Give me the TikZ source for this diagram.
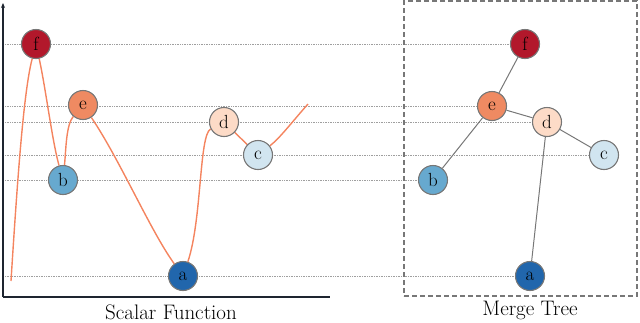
\documentclass[tikz,border=0pt]{standalone}
\usepackage{fontspec}
\usetikzlibrary{backgrounds,arrows.meta}
\definecolor{cf}{HTML}{B2182B}
\definecolor{ce}{HTML}{EF8A62}
\definecolor{cd}{HTML}{FDDBC7}
\definecolor{cc}{HTML}{D1E5F0}
\definecolor{cb}{HTML}{67A9CF}
\definecolor{ca}{HTML}{2166AC}
\definecolor{curvec}{RGB}{244,132,95}
\definecolor{bordc}{HTML}{777777}
\definecolor{axisc}{HTML}{1E2530}
\begin{document}
\begin{tikzpicture}[x=1pt,y=-1pt,
  crit/.style={circle,draw=bordc,line width=1.1pt,minimum size=29pt,inner sep=0pt,font=\fontsize{19}{21}\selectfont},
  level/.style={gray!75,line width=0.7pt,dash pattern=on 1pt off 0.7pt},
  fcurve/.style={curvec,line width=1.4pt},
  tedge/.style={bordc,line width=1pt},
  lbl/.style={font=\fontsize{21}{24}\selectfont}]
\useasboundingbox (0,0) rectangle (640,322);
% scalar function nodes
\node[crit,fill=cf] (lf) at (36,44) {f};
\node[crit,fill=ce] (le) at (83,105) {e};
\node[crit,fill=cb] (lb) at (63,180) {b};
\node[crit,fill=ca] (la) at (183,276) {a};
\node[crit,fill=cd] (ld) at (224,122) {d};
\node[crit,fill=cc] (lc) at (258,155) {c};
% merge tree nodes
\node[crit,fill=cf] (rf) at (525,44) {f};
\node[crit,fill=ce] (re) at (492,106) {e};
\node[crit,fill=cd] (rd) at (547,122) {d};
\node[crit,fill=cc] (rc) at (604,155) {c};
\node[crit,fill=cb] (rb) at (433,180) {b};
\node[crit,fill=ca] (ra) at (530,276) {a};
% level line starts
\coordinate (sf) at (5,44);
\coordinate (se) at (5,106);
\coordinate (sd) at (5,122);
\coordinate (sc) at (5,155);
\coordinate (sb) at (5,180);
\coordinate (sa) at (5,276);
% curve ends
\coordinate (c0) at (11,281);
\coordinate (c1) at (308,104);
% axes
\coordinate (o) at (3,297);
\coordinate (ytop) at (3,3);
\coordinate (xend) at (330,297);
\begin{scope}[on background layer]
  \draw[level] (sf) -- (rf);
  \draw[level] (se) -- (re);
  \draw[level] (sd) -- (rd);
  \draw[level] (sc) -- (rc);
  \draw[level] (sb) -- (rb);
  \draw[level] (sa) -- (ra);
  \draw[fcurve] (c0) .. controls (18,170) and (24,90) .. (lf);
  \draw[fcurve] (lf) .. controls (46,90) and (52,140) .. (lb);
  \draw[fcurve] (lb) .. controls (66,150) and (66,125) .. (le);
  \draw[fcurve] (le) .. controls (120,160) and (150,230) .. (la);
  \draw[fcurve] (la) .. controls (202,220) and (199,135) .. (ld);
  \draw[fcurve] (ld) -- (lc);
  \draw[fcurve] (lc) .. controls (280,138) and (292,122) .. (c1);
\end{scope}
\draw[axisc,line width=1.5pt,-{Stealth[length=5pt,width=4pt]}] (o) -- (ytop);
\draw[axisc,line width=1.8pt] (o) -- (xend);
% merge tree edges
\draw[tedge] (rf) -- (re);
\draw[tedge] (re) -- (rb);
\draw[tedge] (re) -- (rd);
\draw[tedge] (rd) -- (rc);
\draw[tedge] (rd) -- (ra);
% box
\node[draw=bordc,dashed,line width=1.3pt,dash pattern=on 5pt off 3pt,minimum width=233pt,minimum height=295pt,inner sep=0pt] (box) at (520.5,148.5) {};
\node[lbl] (l1) at (171,312) {Scalar Function};
\node[lbl] (l2) at (530,310) {Merge Tree};
\end{tikzpicture}
\end{document}
